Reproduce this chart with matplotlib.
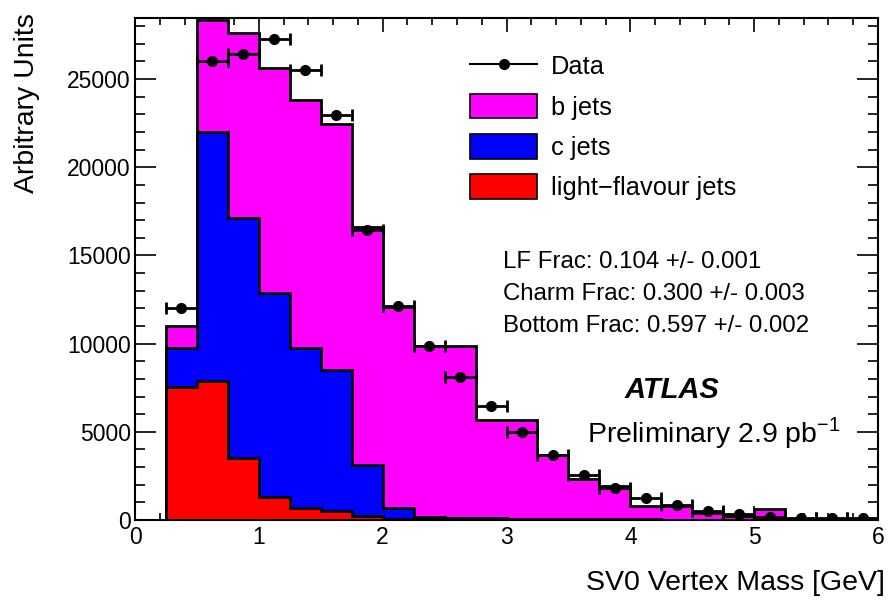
import numpy as np
import matplotlib
matplotlib.use("Agg")
import matplotlib.pyplot as plt
from matplotlib.lines import Line2D
from matplotlib.patches import Patch
from matplotlib.ticker import MultipleLocator

plt.rcParams['font.family'] = ['Liberation Sans', 'DejaVu Sans']

# ---- data ----
bin_edges = np.arange(0.0, 6.0001, 0.25)
light_jets = [0, 7540, 7880, 3510, 1300, 680, 520, 200, 60, 30, 20, 15, 10, 8, 5, 5,
              3, 2, 2, 2, 1, 0, 0, 0]
c_jets = [0, 2210, 14120, 13590, 11570, 9070, 7980, 2920, 620, 120, 100, 85, 70, 52, 45,
          35, 27, 18, 13, 8, 9, 0, 0, 0]
b_jets = [0, 1260, 6345, 10490, 12730, 14060, 13950, 13480, 11420, 9730, 9760, 5570, 5590,
          3630, 2250, 1860, 740, 750, 385, 240, 590, 30, 20, 10]
data_x = [0.375, 0.625, 0.875, 1.125, 1.375, 1.625, 1.875, 2.125, 2.375, 2.625, 2.875,
          3.125, 3.375, 3.625, 3.875, 4.125, 4.375, 4.625, 4.875, 5.125, 5.375, 5.625, 5.875]
data_y = [12040, 26020, 26400, 27270, 25510, 22960, 16420, 12150, 9880, 8120, 6450,
          5000, 3690, 2550, 1810, 1250, 850, 510, 340, 170, 110, 100, 90]
labels = ["Data", "b jets", "c jets", "light\u2212flavour jets"]
frac_lines = ["LF Frac: 0.104 +/- 0.001", "Charm Frac: 0.300 +/- 0.003",
              "Bottom Frac: 0.597 +/- 0.002"]

light = np.array(light_jets, float)
lc = light + np.array(c_jets, float)
total = lc + np.array(b_jets, float)

fig = plt.figure(figsize=(8.88, 6.08), dpi=100)
ax = fig.add_axes([135/888, 1 - 520/608, 743/888, 502/608])

col_b, col_c, col_l = '#ff00ff', '#0000ff', '#ff0000'
for vals, col in [(total, col_b), (lc, col_c), (light, col_l)]:
    ax.stairs(vals, bin_edges, fill=True, color=col, zorder=2)
    ax.stairs(vals, bin_edges, baseline=0, fill=False, color='black', lw=2, zorder=3)

ax.errorbar(data_x, data_y, xerr=0.125, fmt='o', color='black', ms=7, elinewidth=2,
            capsize=4.5, capthick=2, zorder=5)

ax.set_xlim(0, 6)
ax.set_ylim(0, 28460)
ax.xaxis.set_major_locator(MultipleLocator(1))
ax.xaxis.set_minor_locator(MultipleLocator(0.2))
ax.yaxis.set_major_locator(MultipleLocator(5000))
ax.yaxis.set_minor_locator(MultipleLocator(1000))
ax.tick_params(axis='both', which='both', direction='in', top=True, right=True,
               colors='black', labelsize=16.5, width=1.2)
ax.tick_params(axis='x', which='major', length=10, pad=4)
ax.tick_params(axis='x', which='minor', length=5)
ax.tick_params(axis='y', which='major', length=15, pad=3)
ax.tick_params(axis='y', which='minor', length=7.5)
for sp in ax.spines.values():
    sp.set_linewidth(1.5)

ax.set_xlabel("SV0 Vertex Mass [GeV]", fontsize=20.5, ha='right')
ax.xaxis.set_label_coords(1.009, -0.125)
ax.xaxis.label.set_va('center')
ax.set_ylabel("Arbitrary Units", fontsize=20.5, ha='right')
ax.yaxis.set_label_coords(-0.145, 1.01)
ax.yaxis.label.set_va('center')

handles = [Line2D([], [], color='black', marker='o', ms=7, lw=1.5),
           Patch(facecolor=col_b, edgecolor='black', lw=1.2),
           Patch(facecolor=col_c, edgecolor='black', lw=1.2),
           Patch(facecolor=col_l, edgecolor='black', lw=1.2)]
ax.legend(handles, labels, loc='upper left', bbox_to_anchor=(0.451, 0.929),
          frameon=False, fontsize=18.3, handlelength=2.63, handleheight=1.1,
          labelspacing=0.567, handletextpad=0.55, borderpad=0, borderaxespad=0)

for i, t in enumerate(frac_lines):
    ax.text((503-135)/743, 1 - (262 + 32*i - 18)/502, t, transform=ax.transAxes,
            fontsize=17.3, va='center', ha='left')

ax.text((672-135)/743, 1 - (390-18)/502, "ATLAS", transform=ax.transAxes,
        fontsize=21, fontweight='bold', fontstyle='italic', ha='center', va='center')
ax.text((587-135)/743, 1 - (433-18)/502, r"Preliminary 2.9 pb$^{\mathregular{-1}}$",
        transform=ax.transAxes, fontsize=20.5, ha='left', va='center')

fig.savefig("out.png", dpi=100)
